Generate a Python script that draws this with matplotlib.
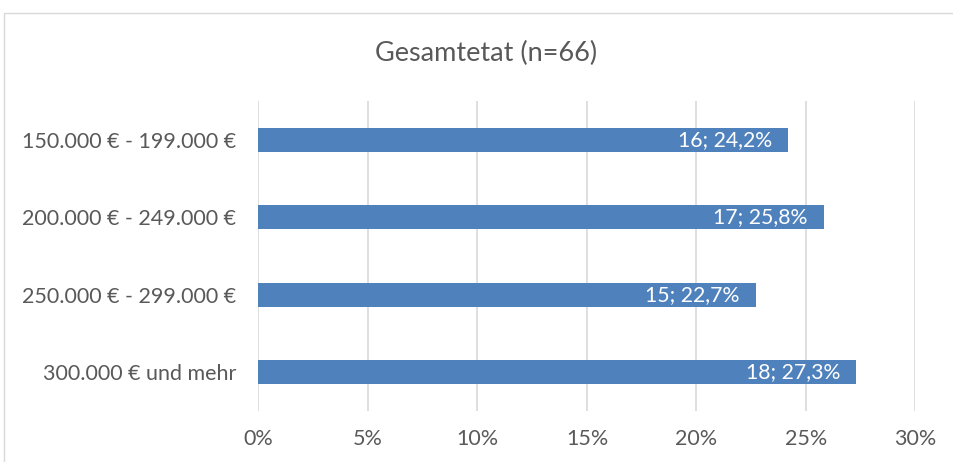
import matplotlib.pyplot as plt
from matplotlib.patches import Rectangle

# Data
categories = ['150.000 € - 199.000 €', '200.000 € - 249.000 €',
              '250.000 € - 299.000 €', '300.000 € und mehr']
counts = [16, 17, 15, 18]
percent = [24.2, 25.8, 22.7, 27.3]
xticks = [0, 5, 10, 15, 20, 25, 30]

plt.rcParams['font.family'] = ['Lato', 'DejaVu Sans']
text_color = '#595959'
bar_color = '#4F81BD'

fig = plt.figure(figsize=(9.54, 4.62), dpi=100)
ax = fig.add_axes([258.5 / 954, 1 - 410.7 / 462, 657 / 954, 309.4 / 462])

# chart border (light grey, open at right/bottom like the crop)
fig.patches.append(Rectangle((4 / 954, -0.05), 1.2, 1 - 13 / 462 + 0.05,
                             transform=fig.transFigure, fill=False,
                             edgecolor='#D9D9D9', linewidth=1))

ypos = list(range(len(categories)))
bars = ax.barh(ypos, percent, height=0.31, color=bar_color, zorder=3)
ax.set_ylim(len(categories) - 0.5, -0.5)
ax.set_xlim(0, 30)

for y, c, p in zip(ypos, counts, percent):
    label = f'{c}; {p:.1f}%'.replace('.', ',')
    ax.annotate(label, (p, y), xytext=(-16, 0), textcoords='offset pixels',
                ha='right', va='center', color='white', fontsize=15.3, zorder=4)

ax.set_xticks(xticks)
ax.set_xticklabels([f'{t}%' for t in xticks])
ax.set_yticks(ypos)
ax.set_yticklabels(categories)
ax.tick_params(axis='both', length=0, colors=text_color, labelsize=15.5)
ax.tick_params(axis='x', pad=13)
ax.tick_params(axis='y', pad=16)
ax.xaxis.grid(True, color='#D9D9D9', linewidth=1.2, zorder=0)
for s in ax.spines.values():
    s.set_visible(False)

fig.text(486 / 954, 1 - 53 / 462, 'Gesamtetat (n=66)', ha='center', va='center',
         fontsize=19.5, color=text_color)

fig.savefig('out.png', dpi=100)
